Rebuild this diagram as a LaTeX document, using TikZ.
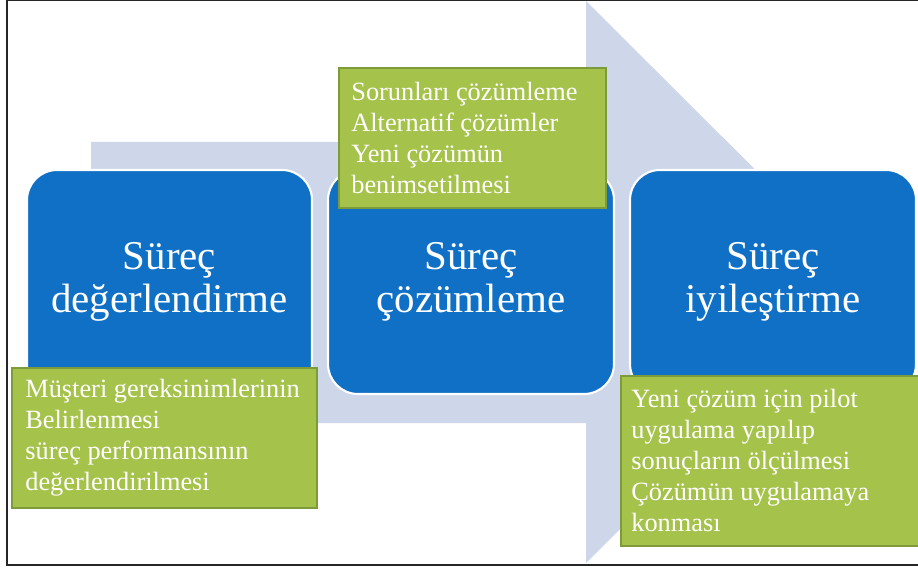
\documentclass[tikz,border=0pt]{standalone}
\usepackage{fontspec}
\setmainfont{Liberation Serif}
\usepackage{tikz}

\definecolor{arrowgray}{HTML}{CED6EA}
\definecolor{procblue}{HTML}{1070C6}
\definecolor{notegreen}{HTML}{A5C24B}
\definecolor{noteedge}{HTML}{7E9B3A}

\tikzset{
  blueblock/.style={fill=procblue,draw=white,line width=1.2pt,rounded corners=0.6cm,text=white},
  bluetext/.style={align=center,font=\fontsize{23.3}{24.5}\selectfont,inner sep=0pt},
  greenblock/.style={fill=notegreen,draw=noteedge,line width=0.8pt},
  greentext/.style={anchor=north west,align=left,text=white,inner sep=0pt,font=\fontsize{15}{17.6}\selectfont}
}

\begin{document}
\begin{tikzpicture}[x=0.02cm,y=-0.02cm]
\useasboundingbox (0,0) rectangle (918,570);
\clip (0,0) rectangle (918,570);

% Frame
\draw[black!85,line width=0.9pt] (918,0.7)--(7,0.7)--(7,565)--(918,565);

% Big arrow
\fill[arrowgray] (91,142)--(586,142)--(586,1)--(868,282)--(586,563)--(586,423)--(91,423)--cycle;

% Process boxes
\draw[blueblock] (27,170) rectangle (312,394) node[pos=.5,bluetext] (evalbox) {Süreç\\değerlendirme};
\draw[blueblock] (328,170) rectangle (614,394) node[pos=.5,bluetext] (solvebox) {Süreç\\çözümleme};
\draw[blueblock] (630,170) rectangle (916,394) node[pos=.5,bluetext] (improvebox) {Süreç\\iyileştirme};

% Notes
\draw[greenblock] (12,368) rectangle (317,508);
\node[greentext] (evalnote) at (25,379) {Müşteri gereksinimlerinin\\Belirlenmesi\\süreç performansının\\değerlendirilmesi};

\draw[greenblock] (339,68) rectangle (606,208);
\node[greentext] (solvenote) at (351,82) {Sorunları çözümleme\\Alternatif çözümler\\Yeni çözümün\\benimsetilmesi};

\draw[greenblock] (621,376) rectangle (930,546);
\node[greentext] (improvenote) at (631,389) {Yeni çözüm için pilot\\uygulama yapılıp\\sonuçların ölçülmesi\\Çözümün uygulamaya\\konması};

\end{tikzpicture}
\end{document}
